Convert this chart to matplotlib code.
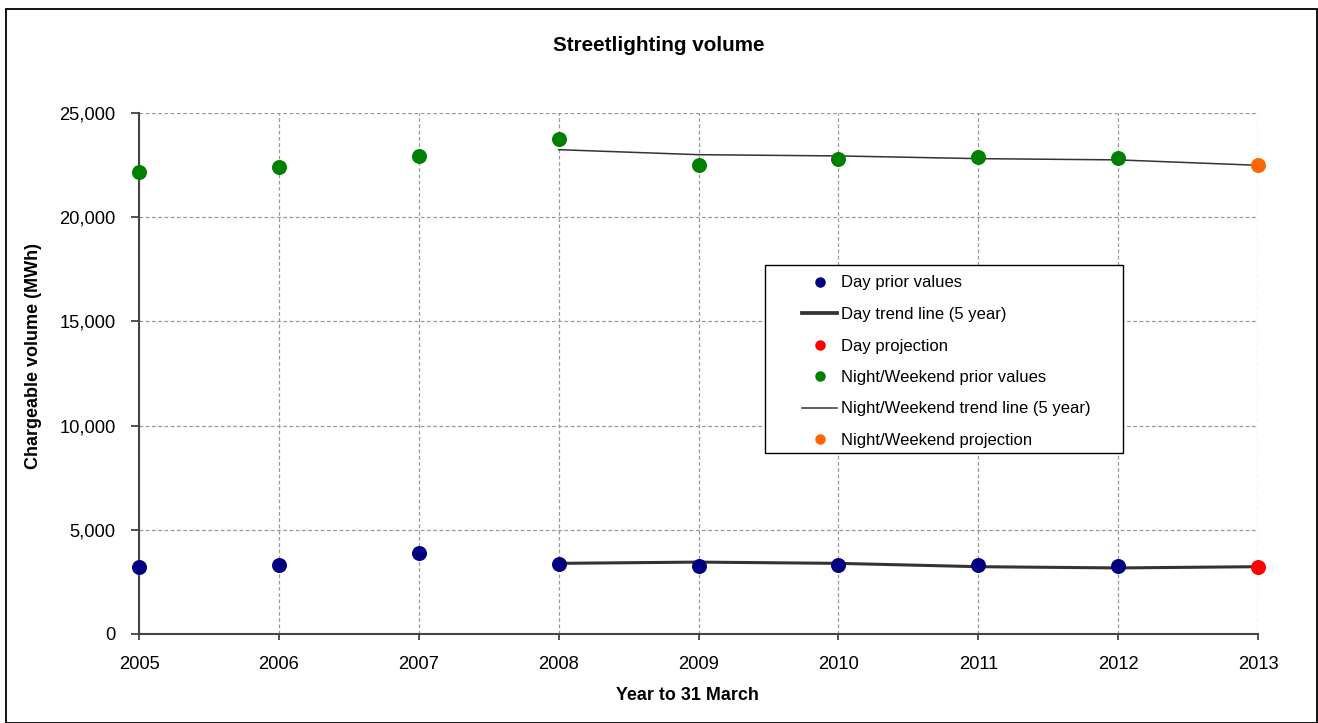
import matplotlib.pyplot as plt
from matplotlib.patches import Rectangle
from matplotlib.ticker import FuncFormatter

plt.rcParams["font.family"] = ["Liberation Sans", "DejaVu Sans"]

# data
years = [2005, 2006, 2007, 2008, 2009, 2010, 2011, 2012, 2013]
day_prior = [3230, 3300, 3870, 3360, 3280, 3330, 3310, 3260]
day_trend = [3390, 3450, 3390, 3230, 3170, 3230]
day_projection = [3230]
night_prior = [22170, 22410, 22940, 23750, 22520, 22780, 22900, 22830]
night_trend = [23240, 23000, 22940, 22810, 22750, 22490]
night_projection = [22520]

prior_years = years[:8]
trend_years = years[3:]
proj_years = years[8:]

W, H = 1318, 723
fig = plt.figure(figsize=(W / 100, H / 100), dpi=100)
ax = fig.add_axes([139 / W, 1 - 634 / H, 1119 / W, 521 / H])

ms = 10.8
ax.plot(prior_years, day_prior, "o", color="#000080", ms=ms, mec="none",
        label="Day prior values", zorder=4, clip_on=False)
ax.plot(trend_years, day_trend, "-", color="#333333", lw=2.2,
        label="Day trend line (5 year)", zorder=3)
ax.plot(proj_years, day_projection, "o", color="#FF0000", ms=ms, mec="none",
        label="Day projection", zorder=4, clip_on=False)
ax.plot(prior_years, night_prior, "o", color="#008000", ms=ms, mec="none",
        label="Night/Weekend prior values", zorder=4, clip_on=False)
ax.plot(trend_years, night_trend, "-", color="#333333", lw=1.1,
        label="Night/Weekend trend line (5 year)", zorder=3)
ax.plot(proj_years, night_projection, "o", color="#FF6600", ms=ms, mec="none",
        label="Night/Weekend projection", zorder=4, clip_on=False)

ax.set_xlim(2005, 2013)
ax.set_ylim(0, 25000)
ax.set_xticks(years)
ax.set_yticks(range(0, 25001, 5000))
ax.yaxis.set_major_formatter(FuncFormatter(lambda v, p: f"{int(v):,}"))
ax.tick_params(labelsize=13.2, width=1.2, color="#333333")
ax.tick_params(axis="y", length=6, pad=10.8)
ax.tick_params(axis="x", length=4, pad=12)

ax.grid(True, linestyle=(0, (3, 2)), color="#9a9a9a", lw=0.9)
ax.set_axisbelow(True)
for s in ["top", "right"]:
    ax.spines[s].set_visible(False)
for s in ["left", "bottom"]:
    ax.spines[s].set_color("#444444")
    ax.spines[s].set_linewidth(1.5)

ax.set_xlabel("Year to 31 March", fontsize=12.9, fontweight="bold", va="center")
ax.xaxis.set_label_coords(0.49, (634 - 696) / 521)
ax.set_ylabel("Chargeable volume (MWh)", fontsize=13, fontweight="bold")
ax.yaxis.set_label_coords((42 - 139) / 1119, (634 - 356) / 521)

fig.text(659 / W, 1 - 45.5 / H, "Streetlighting volume", ha="center", va="center",
         fontsize=14.9, fontweight="bold")

leg = ax.legend(loc="upper left", bbox_to_anchor=(802 / W, 1 - 275.5 / H),
                bbox_transform=fig.transFigure, fontsize=12, frameon=False,
                markerscale=0.7, handlelength=2.1, labelspacing=0.99,
                borderpad=0, borderaxespad=0, handletextpad=0.25)
leg.legend_handles[1].set_linewidth(2.7)
leg.set_zorder(6)

# legend frame drawn separately to get the wide left padding of the reference
ax.add_patch(Rectangle((765 / W, 1 - 453 / H), 358 / W, 188 / H,
                       transform=fig.transFigure, facecolor="white",
                       edgecolor="black", lw=1.0, zorder=5, clip_on=False))

# outer chart border
fig.patches.append(Rectangle((6 / W, 0.5 / H), 1310.5 / W, 1 - 9.5 / H,
                             transform=fig.transFigure, fill=False,
                             edgecolor="black", lw=1.3))

plt.savefig("out.png", dpi=100)
